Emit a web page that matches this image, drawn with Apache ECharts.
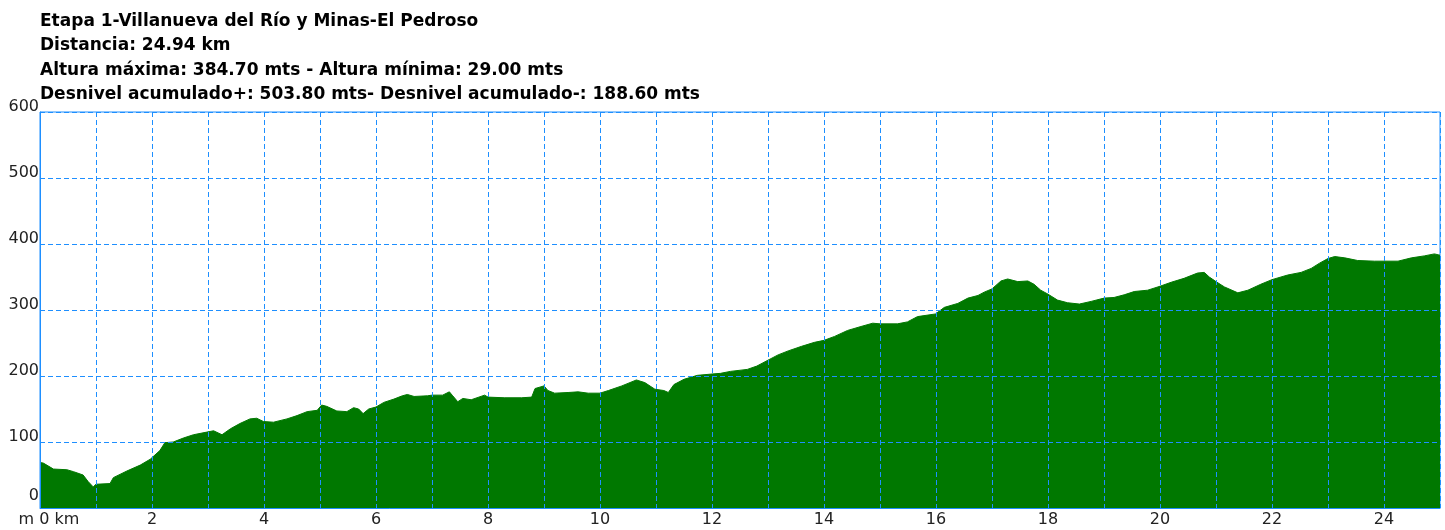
<!DOCTYPE html>
<html>
<head>
<meta charset="utf-8">
<script src="https://cdn.jsdelivr.net/npm/echarts@6/dist/echarts.min.js"></script>
<style>
  html, body { margin: 0; padding: 0; background: #fff; }
  #chart { width: 1445px; height: 530px; }
</style>
</head>
<body>
<div id="chart"></div>
<script>
// perfil de la etapa
const titleLines = [
  'Etapa 1-Villanueva del Río y Minas-El Pedroso',
  'Distancia: 24.94 km',
  'Altura máxima: 384.70 mts - Altura mínima: 29.00 mts',
  'Desnivel acumulado+: 503.80 mts- Desnivel acumulado-: 188.60 mts'
];

const distKm = [
  0, 0.06, 0.24, 0.48, 0.60, 0.77, 0.86, 0.95, 1.0, 1.25,
  1.31, 1.55, 1.79, 1.97, 2.14, 2.23, 2.38, 2.56, 2.74, 2.98,
  3.10, 3.25, 3.40, 3.57, 3.75, 3.87, 3.99, 4.17, 4.41, 4.59,
  4.77, 4.95, 5.03, 5.12, 5.30, 5.48, 5.60, 5.69, 5.77, 5.87,
  6.00, 6.14, 6.32, 6.47, 6.56, 6.68, 6.92, 7.00, 7.19, 7.31,
  7.37, 7.46, 7.55, 7.70, 7.94, 8.00, 8.30, 8.60, 8.78, 8.84,
  9.00, 9.07, 9.19, 9.43, 9.61, 9.79, 10.00, 10.15, 10.39, 10.65,
  10.80, 10.98, 11.14, 11.22, 11.32, 11.50, 11.74, 12.00, 12.15, 12.33,
  12.63, 12.80, 13.00, 13.18, 13.36, 13.60, 13.83, 14.00, 14.19, 14.42,
  14.66, 14.87, 15.00, 15.31, 15.49, 15.67, 15.99, 16.15, 16.39, 16.57,
  16.75, 16.86, 17.00, 17.16, 17.28, 17.46, 17.64, 17.75, 17.87, 18.00,
  18.17, 18.35, 18.56, 18.77, 19.00, 19.18, 19.36, 19.54, 19.78, 20.00,
  20.20, 20.43, 20.67, 20.79, 20.88, 21.00, 21.15, 21.39, 21.57, 21.80,
  22.00, 22.28, 22.52, 22.70, 22.85, 23.00, 23.12, 23.30, 23.53, 23.83,
  24.00, 24.25, 24.49, 24.72, 24.90, 25.0
];

const elevM = [
  69, 68, 59, 58, 55, 50, 40, 32, 36, 37,
  46, 56, 65, 74, 87, 99, 100, 106, 111, 115,
  117, 111, 120, 128, 135, 136, 131, 130, 135, 140,
  146, 148, 156, 154, 147, 146, 152, 150, 143, 150,
  153, 160, 165, 170, 172, 169, 170, 171, 171, 176,
  170, 161, 166, 164, 171, 168, 167, 167, 168, 181,
  185, 178, 174, 175, 176, 174, 174, 178, 185, 194,
  190, 180, 178, 175, 187, 195, 201, 203, 204, 207,
  210, 215, 224, 232, 238, 245, 251, 254, 260, 269,
  275, 280, 279, 279, 282, 290, 294, 304, 310, 318,
  322, 327, 332, 344, 347, 343, 344, 339, 330, 324,
  315, 311, 309, 313, 318, 319, 323, 328, 330, 336,
  342, 348, 356, 357, 350, 343, 335, 326, 330, 339,
  346, 353, 357, 363, 371, 378, 381, 379, 375, 374,
  374, 374, 379, 382, 385, 383
];

const blue = '#1e8fff';
const font = '"DejaVu Sans", Verdana, sans-serif';

const chart = echarts.init(document.getElementById('chart'));

chart.setOption({
  animation: false,
  title: {
    text: titleLines.join('\n'),
    left: 40,
    top: 9,
    padding: 0,
    textStyle: {
      fontFamily: font,
      fontWeight: 'bold',
      fontSize: 17,
      lineHeight: 24.5,
      color: '#000'
    }
  },
  grid: {
    left: 40,
    right: 5,
    top: 112,
    bottom: 22,
    show: true,
    borderColor: blue,
    borderWidth: 1
  },
  xAxis: {
    type: 'value',
    min: 0,
    max: 25,
    interval: 1,
    z: 5,
    axisLine: { show: true, lineStyle: { color: blue, width: 1 } },
    axisTick: { show: false },
    splitLine: { show: true, lineStyle: { color: blue, type: [5, 3], width: 1 } },
    axisLabel: {
      margin: 4,
      fontFamily: font,
      fontSize: 16,
      color: '#222',
      formatter: (v) => {
        if (v === 0) return '{z|m 0 km}';
        return v % 2 === 0 ? String(v) : '';
      },
      rich: {
        z: { fontFamily: font, fontSize: 16, color: '#222', padding: [0, 0, 0, 18] }
      }
    }
  },
  yAxis: {
    type: 'value',
    min: 0,
    max: 600,
    interval: 100,
    z: 5,
    axisLine: { show: true, lineStyle: { color: blue, width: 1 } },
    axisTick: { show: false },
    splitLine: { show: true, lineStyle: { color: blue, type: [5, 3], width: 1 } },
    axisLabel: {
      margin: 1,
      verticalAlign: 'middle',
      padding: [0, 0, 10, 0],
      fontFamily: font,
      fontSize: 16,
      color: '#222',
      formatter: (v) => (v === 0 ? '{z|0}' : String(v)),
      rich: {
        z: { fontFamily: font, fontSize: 16, color: '#222', padding: [0, 0, 15, 0] }
      }
    }
  },
  series: [
    {
      type: 'line',
      data: distKm.map((d, i) => [d, elevM[i]]),
      showSymbol: false,
      symbol: 'none',
      lineStyle: { color: '#007800', width: 1 },
      areaStyle: { color: '#007800', opacity: 1 },
      z: 2
    }
  ]
});
</script>
</body>
</html>
